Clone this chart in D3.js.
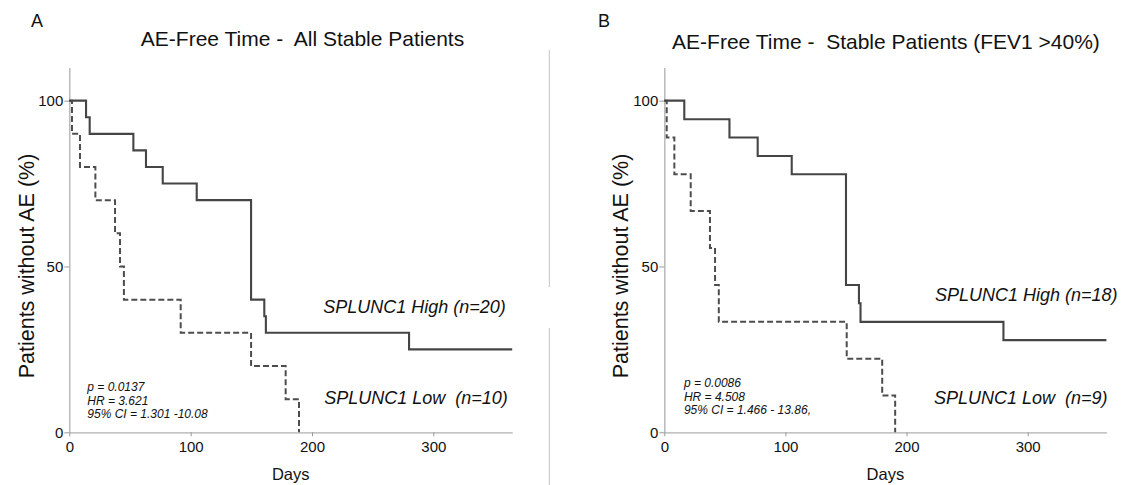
<!DOCTYPE html>
<html>
<head>
<meta charset="utf-8">
<script src="https://cdn.jsdelivr.net/npm/d3@7"></script>
<style>
  html, body { margin: 0; padding: 0; background: #fff; }
  svg { display: block; font-family: "Liberation Sans", Arial, sans-serif; }
  text { white-space: pre; }
</style>
</head>
<body>
<svg id="chart" width="1133" height="485"></svg>
<script>
// Kaplan-Meier step data (days, % without AE)
const aHighDays = [0, 13.8, 16.8, 52.8, 63.2, 77, 105, 149.8, 160.7, 162, 280, 365];
const aHighPct  = [100, 95, 90, 85, 80, 75, 70, 40, 35, 30, 25, 25];
const aLowDays  = [0, 2.2, 8.8, 21.5, 37.7, 41.8, 45, 91.8, 149.8, 178.3, 189.3];
const aLowPct   = [100, 90, 80, 70, 60, 50, 40, 30, 20, 10, 0];

const bHighDays = [0, 16.5, 53.8, 77.1, 105.2, 150, 160.7, 162, 280, 365];
const bHighPct  = [100, 94.4, 88.9, 83.3, 77.8, 44.4, 38.9, 33.3, 27.8, 27.8];
const bLowDays  = [0, 2, 8.3, 21.8, 37.7, 41.9, 45, 150.6, 179.9, 190.6];
const bLowPct   = [100, 88.9, 77.8, 66.7, 55.6, 44.4, 33.3, 22.2, 11.1, 0];

const xTicks = [0, 100, 200, 300];
const yTicks = [0, 50, 100];

const panelLetters = ["A", "B"];
const panelTitles = ["AE-Free Time -  All Stable Patients", "AE-Free Time -  Stable Patients (FEV1 >40%)"];
const highLabels = ["SPLUNC1 High (n=20)", "SPLUNC1 High (n=18)"];
const lowLabels  = ["SPLUNC1 Low  (n=10)", "SPLUNC1 Low  (n=9)"];
const statLines = [
  ["p = 0.0137", "HR = 3.621", "95% CI = 1.301 -10.08"],
  ["p = 0.0086", "HR = 4.508", "95% CI = 1.466 - 13.86,"]
];
const yTitle = "Patients without AE (%)";
const xTitle = "Days";

const svg = d3.select("#chart");
const axisColor = "#b0b0b0";
const textColor = "#111";
const curveColor = "#454545";

function zip(days, pct) { return days.map((d, i) => ({ d, p: pct[i] })); }

function drawPanel(cfg) {
  const g = svg.append("g");
  const x = d3.scaleLinear().domain([0, 365]).range([cfg.x0, cfg.x1]);
  const y = d3.scaleLinear().domain([0, 110]).range([432.3, 67.5]);

  // axes
  const yAxis = g.append("g").attr("transform", `translate(${cfg.x0},0)`)
    .call(d3.axisLeft(y).tickValues(yTicks).tickSize(5).tickSizeOuter(0).tickPadding(1));
  const xAxis = g.append("g").attr("transform", `translate(0,${y(0)})`)
    .call(d3.axisBottom(x).tickValues(xTicks).tickSize(4).tickSizeOuter(0).tickPadding(5));
  [xAxis, yAxis].forEach(a => {
    a.select(".domain").attr("stroke", axisColor).attr("stroke-width", 1.3);
    a.selectAll(".tick line").attr("stroke", "#999");
    a.selectAll(".tick text").attr("fill", textColor).attr("font-size", 15)
      .attr("font-family", "Liberation Sans, Arial, sans-serif");
  });

  const line = d3.line().x(v => x(v.d)).y(v => y(v.p)).curve(d3.curveStepAfter);

  g.append("path").datum(zip(cfg.lowDays, cfg.lowPct))
    .attr("d", line).attr("fill", "none").attr("stroke", "#4d4d4d")
    .attr("stroke-width", 2).attr("stroke-dasharray", "6,3");
  g.append("path").datum(zip(cfg.highDays, cfg.highPct))
    .attr("d", line).attr("fill", "none").attr("stroke", curveColor)
    .attr("stroke-width", 2.1);

  // letter and title
  g.append("text").attr("x", cfg.letterX).attr("y", 26.5).attr("font-size", 18)
    .attr("fill", textColor).text(cfg.letter);
  g.append("text").attr("x", cfg.titleX).attr("y", cfg.titleY).attr("font-size", 21)
    .attr("text-anchor", "middle").attr("fill", textColor).text(cfg.title);

  // axis titles
  g.append("text").attr("transform", `translate(${cfg.yTitleX},266) rotate(-90)`)
    .attr("text-anchor", "middle").attr("font-size", 21.5).attr("fill", textColor).text(yTitle);
  g.append("text").attr("x", (cfg.x0 + cfg.x1) / 2).attr("y", 479.5)
    .attr("text-anchor", "middle").attr("font-size", 16.5).attr("fill", textColor).text(xTitle);

  // group labels
  g.append("text").attr("x", cfg.highX).attr("y", cfg.highY).attr("font-size", 18)
    .attr("font-style", "italic").attr("fill", textColor).text(cfg.high);
  g.append("text").attr("x", cfg.lowX).attr("y", 404).attr("font-size", 18)
    .attr("font-style", "italic").attr("fill", textColor).text(cfg.low);

  // statistics
  g.append("g").selectAll("text").data(cfg.stats).join("text")
    .attr("x", cfg.statX).attr("y", (s, i) => cfg.statY + i * 13.7)
    .attr("font-size", 12).attr("font-style", "italic").attr("fill", textColor)
    .text(s => s);
}

drawPanel({
  x0: 69.3, x1: 512.2, letter: panelLetters[0], letterX: 31,
  title: panelTitles[0], titleX: 302.5, titleY: 45.5, yTitleX: 34,
  highDays: aHighDays, highPct: aHighPct, lowDays: aLowDays, lowPct: aLowPct,
  high: highLabels[0], highX: 323.2, highY: 313, low: lowLabels[0], lowX: 324.2,
  stats: statLines[0], statX: 87.3, statY: 391
});
drawPanel({
  x0: 664.3, x1: 1106.4, letter: panelLetters[1], letterX: 598,
  title: panelTitles[1], titleX: 886, titleY: 48.5, yTitleX: 628,
  highDays: bHighDays, highPct: bHighPct, lowDays: bLowDays, lowPct: bLowPct,
  high: highLabels[1], highX: 935, highY: 300.7, low: lowLabels[1], lowX: 934,
  stats: statLines[1], statX: 683.9, statY: 387
});

// separator between the two panels
const sep = svg.append("g").attr("stroke", "#c4c4c4").attr("stroke-width", 1);
sep.append("line").attr("x1", 549.3).attr("x2", 549.3).attr("y1", 50).attr("y2", 287);
sep.append("line").attr("x1", 549.3).attr("x2", 549.3).attr("y1", 328).attr("y2", 485);
</script>
</body>
</html>
